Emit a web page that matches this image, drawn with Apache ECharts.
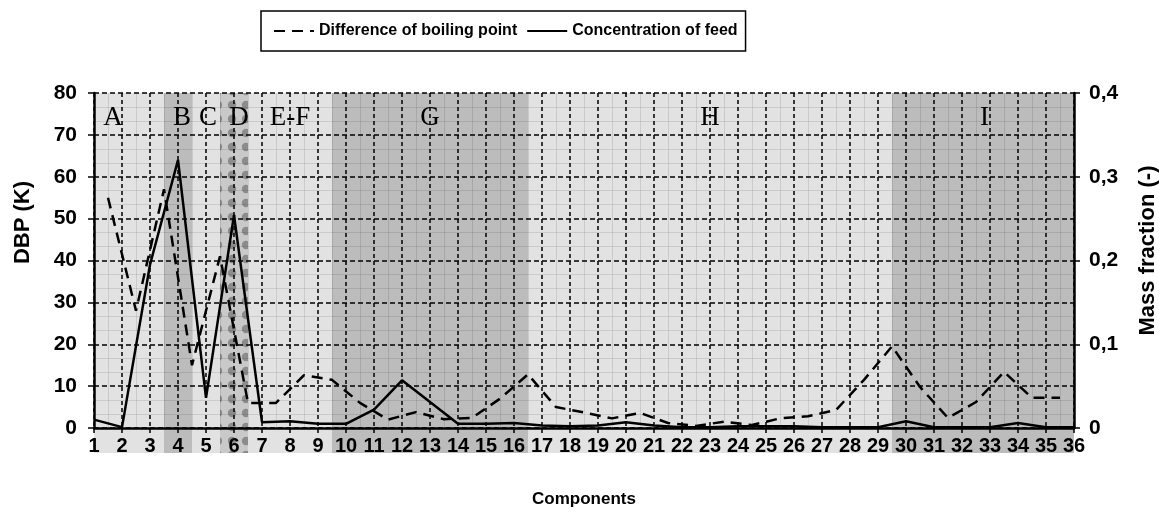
<!DOCTYPE html>
<html>
<meta charset="utf-8" />
<head>
  <script src="https://cdn.jsdelivr.net/npm/echarts@6.0.0/dist/echarts.min.js"></script>
  <style>
    body { margin: 0; background: #fff; }
    .chart { width: 1159px; height: 518px; }
  </style>
</head>
<body>
  <div class="chart" id="chart"></div>
  <script>
    // component numbers (x axis)
    const components = ['1', '2', '3', '4', '5', '6', '7', '8', '9', '10', '11', '12',
      '13', '14', '15', '16', '17', '18', '19', '20', '21', '22', '23', '24',
      '25', '26', '27', '28', '29', '30', '31', '32', '33', '34', '35', '36'];
    // adjacent pairs, the DBP sits between two components
    const pairs = ['1-2', '2-3', '3-4', '4-5', '5-6', '6-7', '7-8', '8-9', '9-10', '10-11',
      '11-12', '12-13', '13-14', '14-15', '15-16', '16-17', '17-18', '18-19', '19-20',
      '20-21', '21-22', '22-23', '23-24', '24-25', '25-26', '26-27', '27-28', '28-29',
      '29-30', '30-31', '31-32', '32-33', '33-34', '34-35', '35-36'];
    // difference of boiling point (K)
    const dbp = [55, 28, 57, 15, 41, 6, 6, 12.6, 11.5, 6, 2, 3.8, 2.1, 2.4, 7, 12.8, 5, 3.7,
      2.3, 3.6, 1.2, 0.5, 1.5, 0.7, 2.3, 2.8, 4.3, 11.5, 19.5, 9.8, 2.4, 6.2, 13.4, 7.2, 7.2];
    // concentration of feed (mass fraction)
    const feed = [0.010, 0.001, 0.195, 0.320, 0.036, 0.254, 0.007, 0.008, 0.005, 0.005,
      0.022, 0.057, 0.031, 0.005, 0.005, 0.006, 0.003, 0.002, 0.003, 0.007, 0.003, 0.001,
      0.001, 0.002, 0.002, 0.002, 0.001, 0.001, 0.001, 0.008, 0.001, 0.001, 0.001, 0.006,
      0.001, 0.001];
    // column groups
    const regionNames = ['A', 'B', 'C', 'D', 'E-F', 'G', 'H', 'I'];
    const regionFrom = [1, 3.5, 4.5, 5.5, 6.5, 9.5, 16.5, 29.5];
    const regionTo = [3.5, 4.5, 5.5, 6.5, 9.5, 16.5, 29.5, 36];
    const regionShade = ['light', 'dark', 'light', 'dotted', 'light', 'dark', 'light', 'dark'];
    const regionLabelX = [1.68, 4.14, 5.07, 6.18, 8.0, 13.0, 23.0, 32.8];

    const FONT = "'Liberation Sans', Arial, sans-serif";

    // dotted fill for column D
    const dots = document.createElement('canvas');
    dots.width = 14;
    dots.height = 14;
    const ctx = dots.getContext('2d');
    ctx.fillStyle = '#c9c9c9';
    ctx.fillRect(0, 0, 14, 14);
    ctx.fillStyle = '#8c8c8c';
    ctx.beginPath();
    ctx.arc(7, 7, 4.2, 0, Math.PI * 2);
    ctx.fill();

    const fills = {
      light: '#e2e2e2',
      dark: '#bcbcbc',
      dotted: { image: dots, repeat: 'repeat', x: 1 }
    };

    const bandData = regionNames.map((n, i) => [regionFrom[i], regionTo[i]]);
    const labelData = regionNames.map((n, i) => ({ name: n, value: [regionLabelX[i], 74] }));

    const myChart = echarts.init(document.getElementById('chart'));
    const option = {
      animation: false,
      textStyle: { fontFamily: FONT },
      legend: {
        top: 11,
        left: 261,
        data: ['Difference of boiling point', 'Concentration of feed'],
        borderColor: '#000',
        borderWidth: 1.5,
        padding: [12, 8, 12, 12],
        itemWidth: 40,
        itemHeight: 14,
        itemGap: 9,
        itemStyle: { opacity: 0 },
        textStyle: { fontFamily: FONT, fontWeight: 'bold', fontSize: 16, color: '#000' }
      },
      grid: { left: 94, right: 85, top: 93, bottom: 90, outerBoundsMode: 'none' },
      xAxis: [
        {
          type: 'category',
          data: components,
          boundaryGap: false,
          position: 'bottom',
          name: 'Components',
          nameLocation: 'middle',
          nameGap: 63,
          nameTextStyle: { fontFamily: FONT, fontWeight: 'bold', fontSize: 17, color: '#000' },
          axisLine: { lineStyle: { color: '#000', width: 2.5 } },
          axisTick: { alignWithLabel: true, length: 5, lineStyle: { color: '#000', width: 1.5 } },
          axisLabel: { interval: 0, margin: 8, fontFamily: FONT, fontWeight: 'bold', fontSize: 20, color: '#000' },
          splitLine: { show: true, interval: 0, lineStyle: { color: '#000', type: [4, 3], width: 1.5 } }
        },
        {
          type: 'value',
          min: 1,
          max: 36,
          interval: 1,
          position: 'bottom',
          axisLine: { show: false },
          axisTick: { show: false },
          axisLabel: { show: false },
          splitLine: { show: false },
          minorTick: { show: false, splitNumber: 2 },
          minorSplitLine: { show: true, lineStyle: { color: 'rgba(0,0,0,0.1)', width: 1 } }
        },
        {
          type: 'category',
          data: pairs,
          boundaryGap: true,
          show: false
        }
      ],
      yAxis: [
        {
          type: 'value',
          min: 0,
          max: 80,
          interval: 10,
          name: 'DBP (K)',
          nameLocation: 'middle',
          nameGap: 60,
          nameRotate: 90,
          nameTextStyle: { fontFamily: FONT, fontWeight: 'bold', fontSize: 22, color: '#000', padding: [0, 0, 0, 76] },
          axisLine: { show: true, lineStyle: { color: '#000', width: 2.5 } },
          axisTick: { show: true, length: 6, lineStyle: { color: '#000', width: 1.5 } },
          axisLabel: { margin: 17, fontFamily: FONT, fontWeight: 'bold', fontSize: 21, color: '#000' },
          splitLine: { show: true, lineStyle: { color: '#000', type: [5, 3], width: 1.5 } },
          minorTick: { show: false, splitNumber: 3 },
          minorSplitLine: { show: true, lineStyle: { color: 'rgba(0,0,0,0.1)', width: 1 } }
        },
        {
          type: 'value',
          min: 0,
          max: 0.4,
          interval: 0.1,
          position: 'right',
          name: 'Mass fraction (-)',
          nameLocation: 'middle',
          nameGap: 63,
          nameRotate: 90,
          nameTextStyle: { fontFamily: FONT, fontWeight: 'bold', fontSize: 22, color: '#000', padding: [0, 0, 0, 20] },
          axisLine: { show: true, lineStyle: { color: '#000', width: 2.5 } },
          axisTick: { show: true, length: 6, lineStyle: { color: '#000', width: 1.5 } },
          axisLabel: {
            margin: 15,
            fontFamily: FONT, fontWeight: 'bold', fontSize: 21, color: '#000',
            formatter: (v) => (v === 0 ? '0' : v.toFixed(1).replace('.', ','))
          },
          splitLine: { show: false }
        }
      ],
      series: [
        {
          type: 'custom',
          name: 'groups',
          xAxisIndex: 1,
          yAxisIndex: 0,
          z: -10,
          silent: true,
          data: bandData,
          renderItem: function (params, api) {
            const p0 = api.coord([api.value(0), 80]);
            const p1 = api.coord([api.value(1), 0]);
            return {
              type: 'rect',
              shape: { x: p0[0], y: p0[1], width: p1[0] - p0[0], height: p1[1] - p0[1] + 25 },
              style: { fill: fills[regionShade[params.dataIndex]] }
            };
          }
        },
        {
          type: 'line',
          name: 'Difference of boiling point',
          xAxisIndex: 2,
          yAxisIndex: 0,
          data: dbp,
          symbol: 'none',
          z: 5,
          lineStyle: { color: '#000', width: 2.5, type: [11, 7] },
          itemStyle: { color: '#000' }
        },
        {
          type: 'line',
          name: 'Concentration of feed',
          xAxisIndex: 0,
          yAxisIndex: 1,
          data: feed,
          symbol: 'none',
          z: 6,
          lineStyle: { color: '#000', width: 2.5 },
          itemStyle: { color: '#000' }
        },
        {
          type: 'scatter',
          name: 'labels',
          xAxisIndex: 1,
          yAxisIndex: 0,
          symbolSize: 0,
          silent: true,
          data: labelData,
          itemStyle: { opacity: 1 },
          label: {
            show: true,
            position: 'inside',
            formatter: '{b}',
            fontFamily: "'Liberation Serif', 'Times New Roman', serif",
            fontSize: 27,
            color: '#000'
          }
        }
      ]
    };
    myChart.setOption(option);
  </script>
</body>
</html>
